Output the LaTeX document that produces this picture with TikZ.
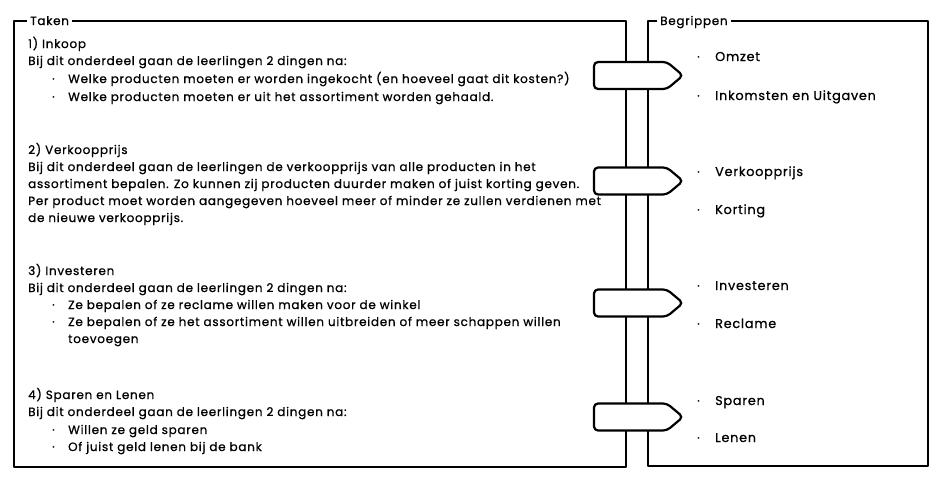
\documentclass[tikz,border=0pt]{standalone}
\usepackage{fontspec}
\setmainfont{Poppins}
\newfontfamily\bal[LetterSpace=6,FakeBold=0.8]{Poppins}
\begin{document}
\begin{tikzpicture}[x=1pt,y=-1pt,
  frame/.style={draw=black,line width=2.2pt,line join=round},
  signpost/.style={draw=black,fill=white,line width=2.2pt,rounded corners=4pt},
  txt/.style={anchor=west,inner sep=0pt,text height=8pt,text depth=0pt,font=\bal\fontsize{12}{14}\selectfont},
  rtxt/.style={txt,font=\bal\fontsize{12.8}{15}\selectfont},
  lbl/.style={txt,inner xsep=3pt}]
\useasboundingbox[fill=white] (0,0) rectangle (940,479);
% frames
\node[lbl] (taken) at (27,21) {Taken};
\node[lbl] (begr) at (657,21) {Begrippen};
\draw[frame] (taken.west) -- (14,21) -- (14,467) -- (626,467) -- (626,21) -- (taken.east);
\draw[frame] (begr.west) -- (648,21) -- (648,466) -- (928,466) -- (928,21) -- (begr.east);
% signposts
\foreach \cy in {75.5,181,303,417}{
  \draw[signpost] (594,\cy-13.5) -- (667,\cy-13.5) -- (683,\cy) -- (667,\cy+13.5) -- (594,\cy+13.5) -- cycle;
}
% section 1
\node[txt] (h1) at (28,44) {1) Inkoop};
\node[txt] (p1) at (28,61) {Bij dit onderdeel gaan de leerlingen 2 dingen na:};
\node[txt] (d1a) at (52,79) {·};
\node[txt] (b1a) at (68,79) {Welke producten moeten er worden ingekocht (en hoeveel gaat dit kosten?)};
\node[txt] (d1b) at (52,97) {·};
\node[txt] (b1b) at (68,97) {Welke producten moeten er uit het assortiment worden gehaald.};
% section 2
\node[txt] (h2) at (28,150) {2) Verkoopprijs};
\node[txt] (p2a) at (28,167) {Bij dit onderdeel gaan de leerlingen de verkoopprijs van alle producten in het};
\node[txt] (p2b) at (28,184) {assortiment bepalen. Zo kunnen zij producten duurder maken of juist korting geven.};
\node[txt] (p2c) at (28,201) {Per product moet worden aangegeven hoeveel meer of minder ze zullen verdienen met};
\node[txt] (p2d) at (28,218) {de nieuwe verkoopprijs.};
% section 3
\node[txt] (h3) at (28,271) {3) Investeren};
\node[txt] (p3) at (28,288) {Bij dit onderdeel gaan de leerlingen 2 dingen na:};
\node[txt] (d3a) at (52,305) {·};
\node[txt] (b3a) at (68,305) {Ze bepalen of ze reclame willen maken voor de winkel};
\node[txt] (d3b) at (52,322) {·};
\node[txt] (b3b) at (68,322) {Ze bepalen of ze het assortiment willen uitbreiden of meer schappen willen};
\node[txt] (b3c) at (68,339) {toevoegen};
% section 4
\node[txt] (h4) at (28,395) {4) Sparen en Lenen};
\node[txt] (p4) at (28,412) {Bij dit onderdeel gaan de leerlingen 2 dingen na:};
\node[txt] (d4a) at (52,430) {·};
\node[txt] (b4a) at (68,430) {Willen ze geld sparen};
\node[txt] (d4b) at (52,447) {·};
\node[txt] (b4b) at (68,447) {Of juist geld lenen bij de bank};
% right column
\foreach \nm/\yy/\tx in {r1/57/Omzet, r2/96/Inkomsten en Uitgaven, r3/172/Verkoopprijs, r4/210/Korting, r5/286/Investeren, r6/324/Reclame, r7/401/Sparen, r8/438/Lenen}{
  \node[txt] (d\nm) at (697,\yy) {·};
  \node[rtxt] (\nm) at (715,\yy) {\tx};
}
\end{tikzpicture}
\end{document}
